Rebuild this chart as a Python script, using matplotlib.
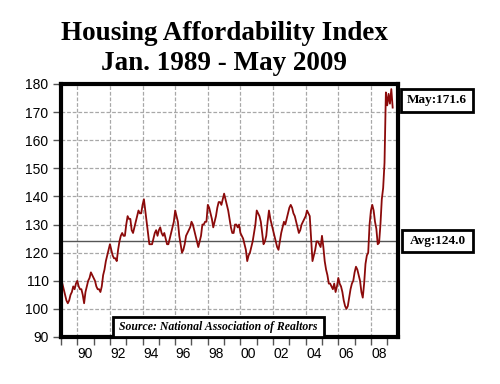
import numpy as np
import matplotlib.pyplot as plt
from matplotlib.patches import Rectangle

# ── Data: NAR Housing Affordability Index, monthly, Jan 1989 – May 2009 ──────
hai_1989 = [111, 109, 107, 105, 103, 102, 103, 105, 106, 108, 107, 109]
hai_1990 = [110, 108, 107, 107, 105, 102, 106, 108, 110, 111, 113, 112]
hai_1991 = [111, 110, 108, 107, 107, 106, 108, 112, 114, 117, 119, 121]
hai_1992 = [123, 121, 119, 118, 118, 117, 121, 124, 126, 127, 126, 126]
hai_1993 = [130, 133, 132, 132, 128, 127, 129, 131, 133, 135, 134, 134]
hai_1994 = [137, 139, 135, 131, 127, 123, 123, 123, 125, 127, 128, 126]
hai_1995 = [128, 129, 127, 126, 127, 125, 123, 123, 125, 127, 129, 131]
hai_1996 = [135, 133, 131, 126, 123, 120, 121, 123, 126, 127, 128, 129]
hai_1997 = [131, 130, 128, 126, 124, 122, 124, 126, 130, 130, 131, 131]
hai_1998 = [137, 136, 134, 132, 129, 131, 133, 136, 138, 138, 137, 139]
hai_1999 = [141, 139, 137, 135, 132, 129, 127, 127, 130, 130, 129, 130]
hai_2000 = [127, 126, 125, 123, 121, 117, 119, 120, 122, 124, 127, 130]
hai_2001 = [135, 134, 133, 131, 127, 123, 124, 126, 131, 135, 132, 130]
hai_2002 = [128, 126, 124, 122, 121, 124, 127, 129, 131, 130, 132, 134]
hai_2003 = [136, 137, 136, 134, 133, 131, 129, 127, 128, 130, 131, 132]
hai_2004 = [133, 135, 134, 133, 125, 117, 119, 121, 124, 124, 123, 122]
hai_2005 = [126, 122, 117, 114, 112, 109, 109, 108, 107, 109, 106, 108]
hai_2006 = [111, 109, 108, 106, 103, 101, 100, 101, 104, 107, 109, 110]
hai_2007 = [113, 115, 114, 112, 110, 106, 104, 109, 116, 119, 120, 130]
hai_2008 = [135, 137, 135, 131, 128.5, 123, 123.5, 130, 139, 143, 152, 177]
hai_2009 = [172.4, 176.5, 173, 178.2, 171.6]

AVG = 124.0
LATEST_LABEL = "May:171.6"
AVG_LABEL = "Avg:124.0"
SOURCE = "Source: National Association of Realtors"
year_labels = ['90', '92', '94', '96', '98', '00', '02', '04', '06', '08']

hai = np.array(hai_1989 + hai_1990 + hai_1991 + hai_1992 + hai_1993 + hai_1994
               + hai_1995 + hai_1996 + hai_1997 + hai_1998 + hai_1999 + hai_2000
               + hai_2001 + hai_2002 + hai_2003 + hai_2004 + hai_2005 + hai_2006
               + hai_2007 + hai_2008 + hai_2009, dtype=float)
t = 1989 + np.arange(len(hai)) / 12.0

# ── Plot ──────────────────────────────────────────────────────────────────────
W_PX, H_PX = 500, 384
fig = plt.figure(figsize=(W_PX / 100, H_PX / 100), dpi=100)
ax = fig.add_axes([61 / W_PX, 1 - 337 / H_PX, (398 - 61) / W_PX, (337 - 84) / H_PX])

grid_kw = dict(color='#a8a8a8', linewidth=0.9, linestyle=(0, (3, 1.5)), zorder=1)
for v in range(100, 180, 10):
    ax.axhline(v, **grid_kw)
for yr in range(1990, 2009, 2):
    ax.axvline(yr, **grid_kw)

ax.axhline(AVG, color='#555555', linewidth=1.0, zorder=2)
ax.plot(t, hai, color='#8b0a0a', linewidth=1.3, zorder=3)

ax.set_xlim(1989, 2009.66)
ax.set_ylim(90, 180)

ax.set_yticks(range(90, 181, 10))
ax.set_xticks(range(1989, 2010))
ax.set_xticklabels([])
ax.set_xticks([y + 0.5 for y in range(1990, 2009, 2)], minor=True)
ax.set_xticklabels(year_labels, minor=True)
ax.tick_params(axis='x', which='major', length=6, width=1, color='#555555', direction='out')
ax.tick_params(axis='x', which='minor', length=0, pad=7)
ax.tick_params(axis='y', length=6, width=1, color='#555555', pad=3)
for lab in ax.get_xticklabels(minor=True) + ax.get_yticklabels():
    lab.set_fontfamily('Liberation Sans')
    lab.set_fontsize(10)

for s in ax.spines.values():
    s.set_linewidth(3)
    s.set_color('black')
    s.set_zorder(5)

# ── Titles and boxed annotations ──────────────────────────────────────────────
title_kw = dict(ha='center', va='center', fontfamily='Liberation Serif',
                fontweight='bold', fontsize=19.5)
fig.text(224 / W_PX, 1 - 33 / H_PX, "Housing Affordability Index", **title_kw)
fig.text(224 / W_PX, 1 - 63 / H_PX, "Jan. 1989 - May 2009", **title_kw)


def px_box(x0, y0, x1, y1, text, style='normal', size=9):
    fig.patches.append(Rectangle((x0 / W_PX, 1 - y1 / H_PX), (x1 - x0) / W_PX,
                                 (y1 - y0) / H_PX, transform=fig.transFigure,
                                 facecolor='white', edgecolor='black',
                                 linewidth=2, zorder=6))
    fig.text((x0 + x1) / 2 / W_PX, 1 - (y0 + y1) / 2 / H_PX, text,
             ha='center', va='center', fontfamily='Liberation Serif',
             fontweight='bold', fontstyle=style, fontsize=size, zorder=7)


px_box(401, 89, 473, 112, LATEST_LABEL, size=9.5)
px_box(402, 230, 473, 252, AVG_LABEL, size=9.5)
px_box(113, 317, 324, 337, SOURCE, style='italic', size=8.5)

fig.savefig('out.png', dpi=100)
